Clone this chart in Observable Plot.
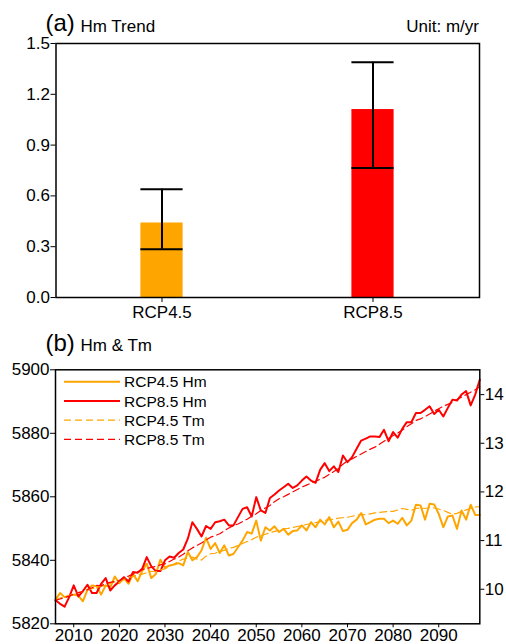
<!DOCTYPE html>
<html><head><meta charset="utf-8">
<script src="https://cdn.jsdelivr.net/npm/d3@7"></script>
<script src="https://cdn.jsdelivr.net/npm/@observablehq/plot@0.6"></script>
<style>
body{margin:0;background:#fff;}
#root{position:relative;width:506px;height:644px;overflow:hidden;font-family:"Liberation Sans",Arial,Helvetica,sans-serif;}
#root > svg{position:absolute;left:0;overflow:visible;}
</style></head><body><div id="root"></div>
<script>
// ---------- Panel (a) data ----------
const scenarios = ["RCP4.5", "RCP8.5"];
const trend = [0.44, 1.11];
const trendLow = [0.285, 0.765];
const trendHigh = [0.64, 1.39];
const barColors = ["#FFA500", "#FF0000"];
const yTicksA = [0, 0.3, 0.6, 0.9, 1.2, 1.5];

// ---------- Panel (b) data ----------
const firstYear = 2006, lastYear = 2099;
const years = d3.range(firstYear, lastYear + 1);
const hm45 = [
 5827.6, 5829.7, 5828.4, 5828.8, 5829.2, 5828.9, 5827.1, 5830.7, 5832.1, 5831.8,
 5829.2, 5832.1, 5831.5, 5834.9, 5832.8, 5834.4, 5832.6, 5835.7, 5833.4, 5836.6,
 5838.9, 5834.4, 5835.7, 5840.2, 5837.6, 5838.4, 5838.7, 5839.1, 5838.4, 5842.6,
 5840.0, 5841.0, 5843.1, 5847.1, 5843.6, 5845.4, 5842.3, 5844.7, 5841.5, 5842.0,
 5844.1, 5846.2, 5848.9, 5848.4, 5852.5, 5846.2, 5850.4, 5849.4, 5850.7, 5848.9,
 5849.9, 5848.1, 5849.2, 5849.4, 5851.0, 5849.4, 5852.0, 5850.4, 5852.8, 5851.3,
 5853.6, 5850.4, 5852.2, 5849.2, 5849.6, 5851.7, 5852.8, 5854.9, 5851.3, 5852.0,
 5852.8, 5853.1, 5853.1, 5851.7, 5852.5, 5851.5, 5853.4, 5851.0, 5852.5, 5857.5,
 5857.3, 5852.8, 5857.8, 5857.6, 5854.6, 5850.4, 5853.8, 5854.1, 5849.9, 5855.7,
 5852.8, 5857.5, 5854.3, 5854.3];
const hm85 = [
 5827.4, 5826.3, 5825.4, 5828.4, 5832.1, 5828.6, 5830.3, 5832.3, 5829.7, 5829.7,
 5832.6, 5834.4, 5830.5, 5832.1, 5833.3, 5834.7, 5833.3, 5836.3, 5836.1, 5837.3,
 5841.0, 5838.1, 5836.6, 5836.6, 5840.0, 5841.2, 5840.8, 5842.3, 5843.4, 5846.8,
 5852.0, 5849.9, 5847.5, 5850.8, 5849.9, 5852.0, 5852.3, 5852.8, 5851.0, 5851.0,
 5853.6, 5856.2, 5856.7, 5853.8, 5859.9, 5855.7, 5854.9, 5859.6, 5860.7, 5862.0,
 5863.0, 5864.1, 5862.8, 5863.6, 5865.1, 5866.4, 5865.1, 5864.4, 5868.5, 5870.6,
 5868.1, 5869.6, 5867.8, 5873.0, 5870.9, 5872.5, 5875.1, 5877.7, 5878.3, 5879.0,
 5879.0, 5878.8, 5881.1, 5877.5, 5880.4, 5878.6, 5881.4, 5883.5, 5883.5, 5886.4,
 5886.4, 5887.4, 5888.5, 5886.1, 5887.4, 5885.3, 5888.0, 5890.6, 5890.3, 5892.2,
 5893.3, 5888.8, 5892.2, 5896.9];
const tm45 = [
 9.80, 9.82, 9.85, 9.87, 9.90, 9.93, 9.95, 9.98, 10.01, 10.04,
 10.06, 10.08, 10.12, 10.15, 10.14, 10.20, 10.24, 10.26, 10.30, 10.31,
 10.34, 10.37, 10.36, 10.40, 10.42, 10.47, 10.52, 10.58, 10.62, 10.64,
 10.66, 10.62, 10.60, 10.68, 10.73, 10.74, 10.78, 10.80, 10.84, 10.86,
 10.90, 10.94, 10.98, 11.02, 11.07, 11.10, 11.13, 11.16, 11.19, 11.21,
 11.24, 11.25, 11.27, 11.29, 11.31, 11.33, 11.35, 11.37, 11.39, 11.41,
 11.43, 11.44, 11.46, 11.47, 11.48, 11.50, 11.52, 11.54, 11.53, 11.55,
 11.57, 11.58, 11.59, 11.60, 11.60, 11.63, 11.66, 11.64, 11.62, 11.66,
 11.67, 11.66, 11.68, 11.67, 11.65, 11.62, 11.58, 11.54, 11.56, 11.60,
 11.63, 11.66, 11.69, 11.70];
const tm85 = [
 9.77, 9.80, 9.83, 9.86, 9.90, 9.93, 9.95, 9.99, 10.03, 10.08,
 10.07, 10.12, 10.14, 10.16, 10.18, 10.24, 10.27, 10.31, 10.36, 10.40,
 10.43, 10.45, 10.47, 10.50, 10.52, 10.57, 10.62, 10.66, 10.72, 10.79,
 10.85, 10.90, 10.95, 11.01, 11.07, 11.10, 11.14, 11.20, 11.26, 11.31,
 11.34, 11.39, 11.44, 11.50, 11.55, 11.62, 11.67, 11.72, 11.80, 11.86,
 11.90, 11.95, 12.00, 12.05, 12.10, 12.14, 12.18, 12.22, 12.26, 12.30,
 12.36, 12.42, 12.48, 12.57, 12.64, 12.68, 12.73, 12.78, 12.83, 12.88,
 12.92, 12.98, 13.04, 13.10, 13.16, 13.21, 13.27, 13.34, 13.40, 13.47,
 13.50, 13.55, 13.60, 13.66, 13.71, 13.76, 13.80, 13.84, 13.90, 13.95,
 14.00, 14.05, 14.10, 14.16];
const xTicksB = [2010, 2020, 2030, 2040, 2050, 2060, 2070, 2080, 2090];
const hmDomain = [5820, 5900];
const hmTicks = [5820, 5840, 5860, 5880, 5900];
const tmDomain = [9.29, 14.51];
const tmTicks = [10, 11, 12, 13, 14];
const seriesNames = ["RCP4.5 Hm", "RCP8.5 Hm", "RCP4.5 Tm", "RCP8.5 Tm"];
const ORANGE = "#FFA500", RED = "#FF0000";

const FONT = '"Liberation Sans", Arial, Helvetica, sans-serif';
const root = document.getElementById("root");

// ---------- Panel (a) ----------
const barData = scenarios.map((s, i) => ({s, v: trend[i], lo: trendLow[i], hi: trendHigh[i], c: barColors[i]}));
const inset = 84.4;
const chartA = Plot.plot({
  width: 506, height: 330,
  marginTop: 43, marginBottom: 33, marginLeft: 55.5, marginRight: 27,
  style: {fontFamily: FONT, fontSize: "17px", color: "#000", background: "transparent"},
  x: {domain: scenarios, padding: 0, label: null, tickSize: 5, tickPadding: 3},
  y: {domain: [0, 1.5], ticks: yTicksA, tickFormat: d3.format(".1f"), label: null, tickSize: 5, tickPadding: 1},
  color: {type: "identity"},
  marks: [
    Plot.barY(barData, {x: "s", y: "v", fill: "c", insetLeft: inset, insetRight: inset}),
    Plot.ruleX(barData, {x: "s", y1: "lo", y2: "hi", stroke: "#000", strokeWidth: 2}),
    Plot.tickY(barData, {x: "s", y: "lo", stroke: "#000", strokeWidth: 2, insetLeft: inset, insetRight: inset}),
    Plot.tickY(barData, {x: "s", y: "hi", stroke: "#000", strokeWidth: 2, insetLeft: inset, insetRight: inset}),
    Plot.frame({stroke: "#000", strokeWidth: 1.5})
  ]
});
chartA.style.top = "0px";
root.appendChild(chartA);

// ---------- Panel (b) ----------
const tmToHm = d3.scaleLinear().domain(tmDomain).range(hmDomain);
const toRows = (arr, f = d => d) => years.map((year, i) => ({year, v: f(arr[i])}));
const chartB = Plot.plot({
  width: 506, height: 324,
  marginTop: 49.3, marginBottom: 20.7, marginLeft: 55, marginRight: 26.7,
  style: {fontFamily: FONT, fontSize: "17px", color: "#000", background: "transparent"},
  x: {domain: [firstYear, lastYear], label: null},
  y: {domain: hmDomain, label: null},
  marks: [
    Plot.axisX({ticks: xTicksB, tickFormat: d => String(d), tickSize: 4, tickPadding: 1, label: null}),
    Plot.axisY({anchor: "left", ticks: hmTicks, tickFormat: d => String(d), tickSize: 5, tickPadding: 1, label: null}),
    Plot.axisY({anchor: "right", ticks: tmTicks.map(t => tmToHm(t)), tickFormat: v => String(Math.round(tmToHm.invert(v))), tickSize: 4, tickPadding: 1, label: null}),
    Plot.lineY(toRows(hm45), {x: "year", y: "v", stroke: ORANGE, strokeWidth: 2}),
    Plot.lineY(toRows(hm85), {x: "year", y: "v", stroke: RED, strokeWidth: 2}),
    Plot.lineY(toRows(tm45, tmToHm), {x: "year", y: "v", stroke: ORANGE, strokeWidth: 1.2, strokeDasharray: "7,4"}),
    Plot.lineY(toRows(tm85, tmToHm), {x: "year", y: "v", stroke: RED, strokeWidth: 1.2, strokeDasharray: "7,4"}),
    Plot.frame({stroke: "#000", strokeWidth: 1.5})
  ]
});
chartB.style.top = "320px";
root.appendChild(chartB);

// ---------- Titles and legend overlay ----------
const ov = d3.select(root).append("svg")
  .attr("width", 506).attr("height", 644)
  .style("top", "0px").style("pointer-events", "none")
  .style("font-family", FONT);
function txt(x, y, s, size, anchor = "start") {
  ov.append("text").attr("x", x).attr("y", y).attr("font-size", size)
    .attr("text-anchor", anchor).attr("fill", "#000").text(s);
}
txt(45.5, 31, "(a)", 24);
txt(80.5, 31.5, "Hm Trend", 17);
txt(479, 31.5, "Unit: m/yr", 17, "end");
txt(45.5, 351, "(b)", 24);
txt(80.5, 351, "Hm & Tm", 17);

const legendStyles = [
  {stroke: ORANGE, width: 2, dash: null},
  {stroke: RED, width: 2, dash: null},
  {stroke: ORANGE, width: 1.2, dash: "7,4"},
  {stroke: RED, width: 1.2, dash: "7,4"}
];
const legendY = [381.7, 401, 420.2, 439.3];
seriesNames.forEach((name, i) => {
  const st = legendStyles[i];
  const l = ov.append("line").attr("x1", 64).attr("x2", 120)
    .attr("y1", legendY[i]).attr("y2", legendY[i])
    .attr("stroke", st.stroke).attr("stroke-width", st.width);
  if (st.dash) l.attr("stroke-dasharray", st.dash);
  txt(124, legendY[i] + 5.6, name, 15.5);
});
</script></body></html>
